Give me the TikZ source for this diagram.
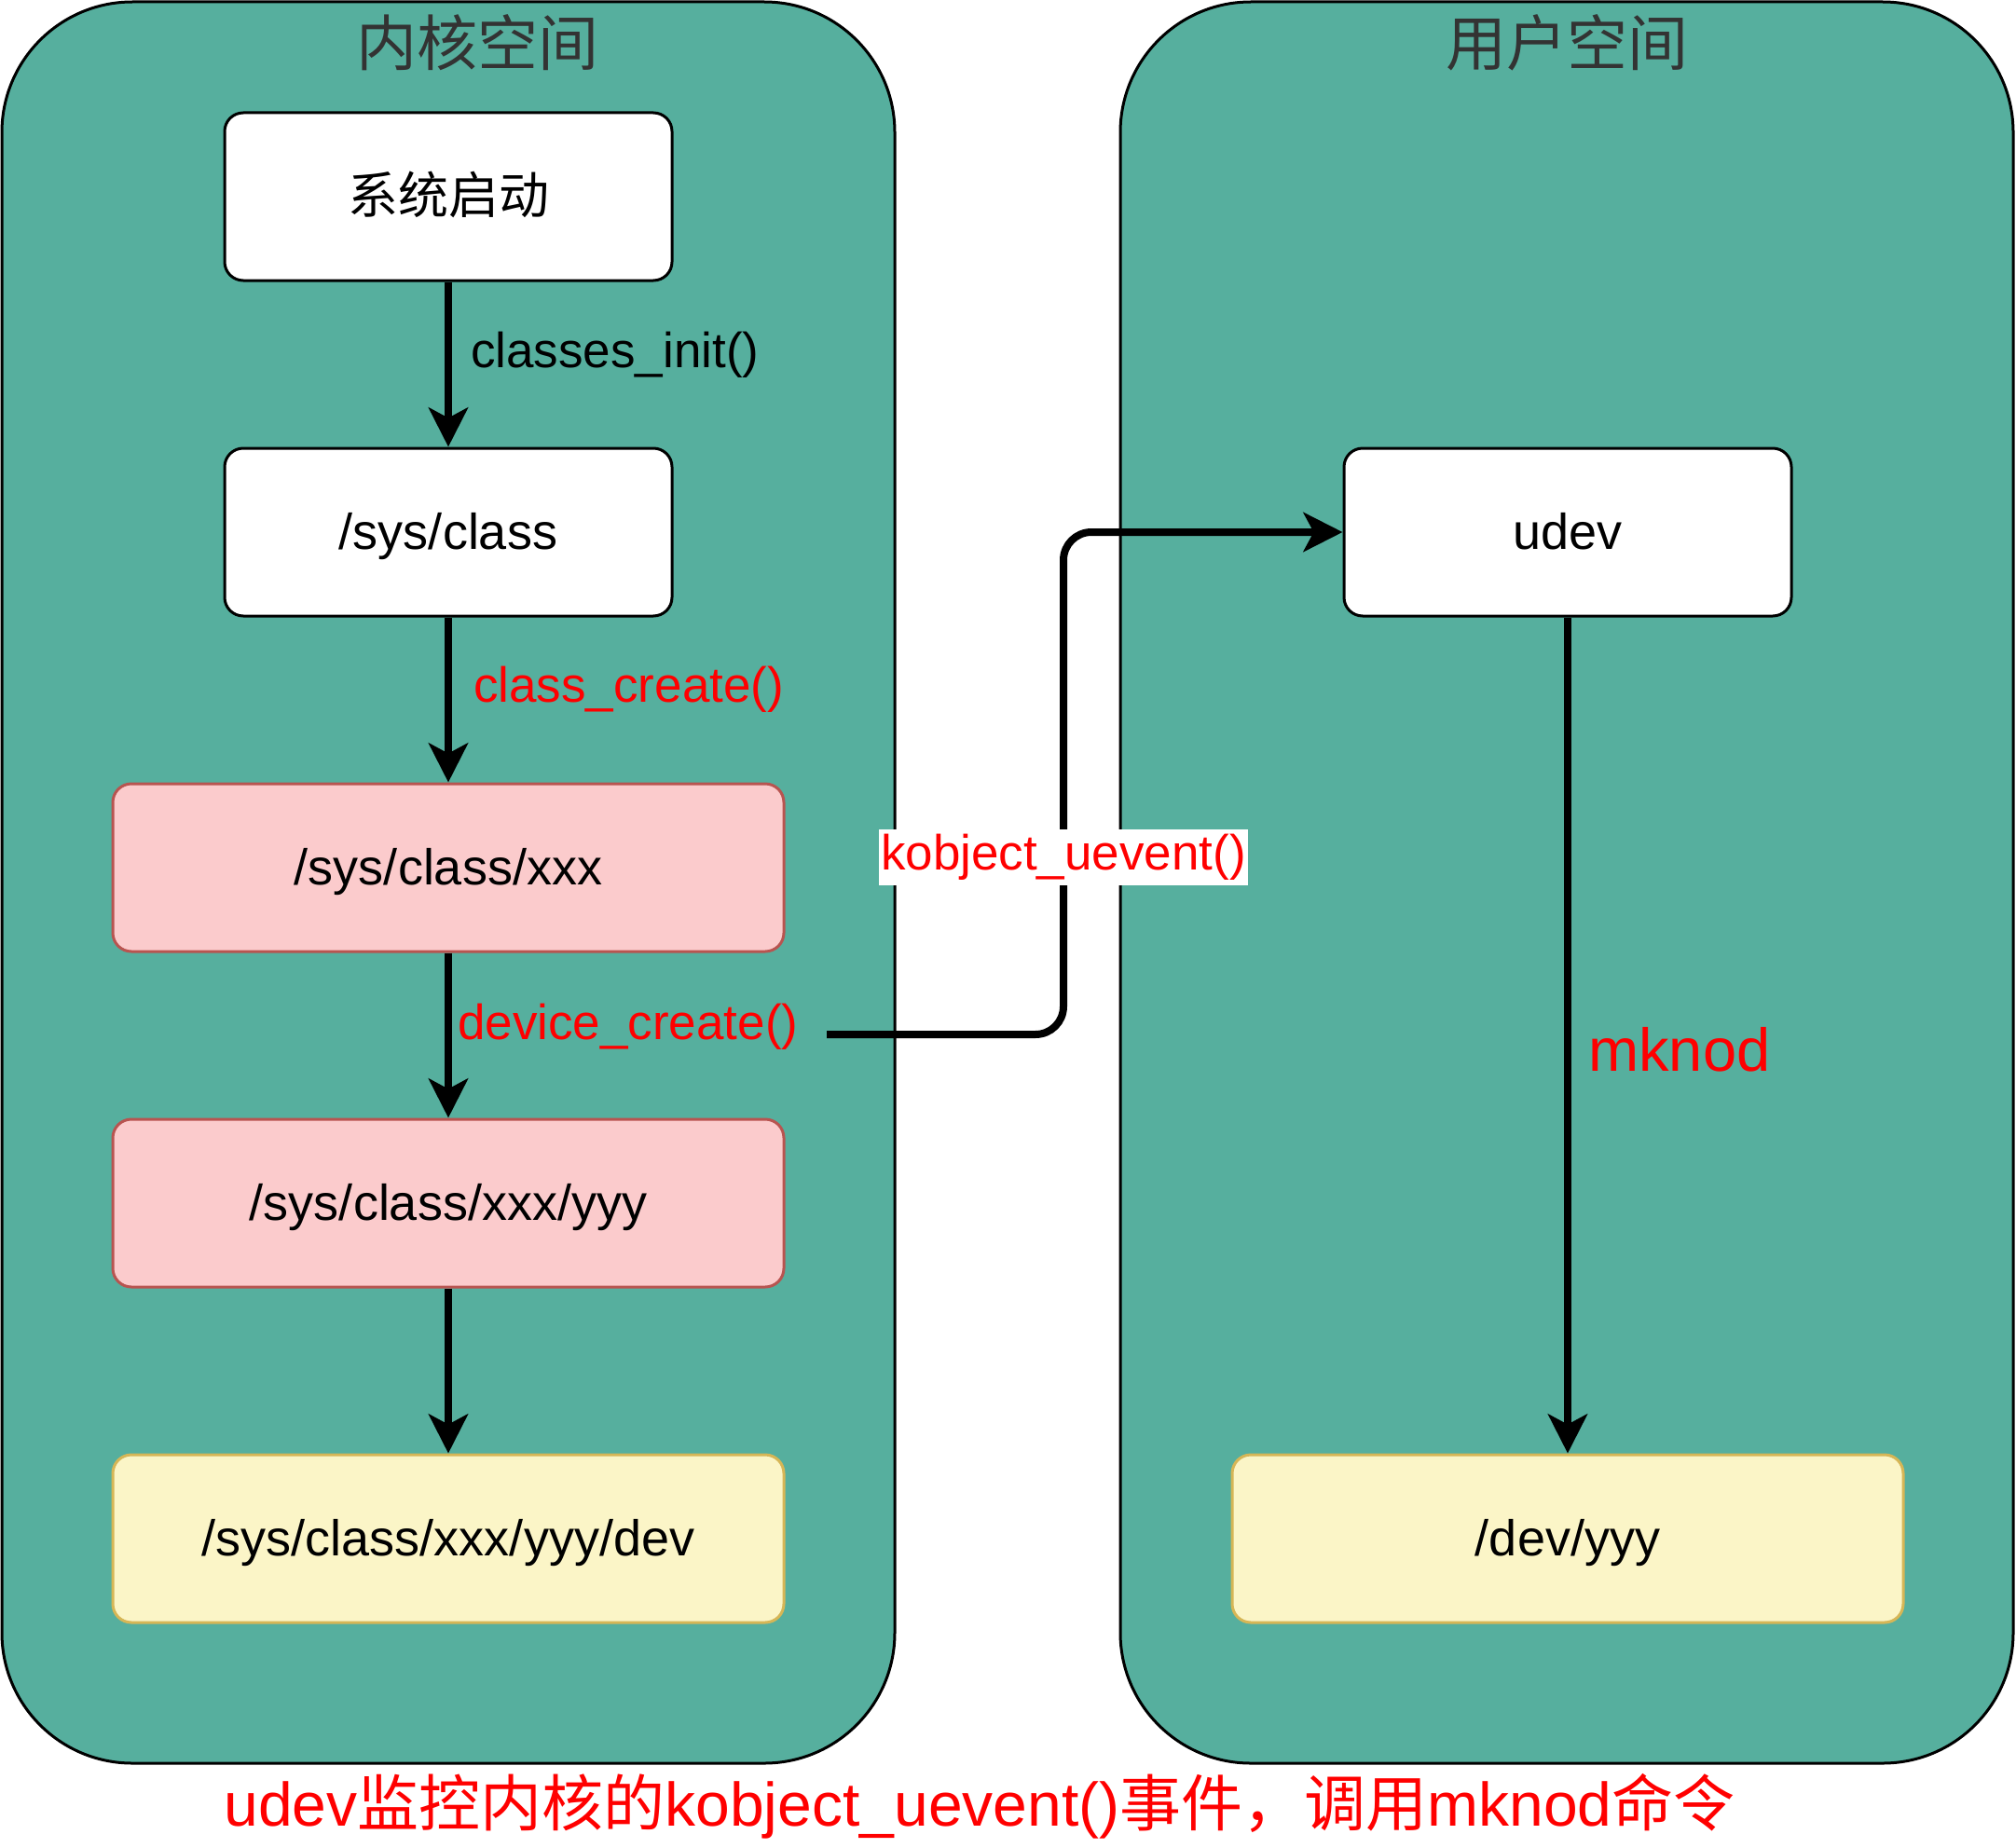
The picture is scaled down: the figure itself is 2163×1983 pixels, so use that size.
\documentclass[tikz,border=0pt]{standalone}
\usepackage{fontspec}
\setmainfont{Liberation Sans}
\newfontfamily\cjk{Noto Sans CJK SC}
\usetikzlibrary{arrows.meta}
\definecolor{contfill}{RGB}{86,175,158}
\definecolor{pinkfill}{RGB}{251,203,204}
\definecolor{pinkline}{RGB}{184,84,80}
\definecolor{yellowfill}{RGB}{251,245,199}
\definecolor{yellowline}{RGB}{214,182,86}
\definecolor{titlegray}{RGB}{51,51,51}
\definecolor{redtext}{RGB}{255,0,0}
\tikzset{
  container/.style={draw=black, line width=3pt, fill=contfill, rounded corners=140pt,
    minimum width=958pt, minimum height=1890pt, inner sep=0pt},
  box/.style={draw=black, fill=white, line width=3pt, rounded corners=20pt,
    minimum width=480pt, minimum height=180pt, inner sep=0pt,
    text height=42pt, text depth=6pt,
    font=\fontsize{54}{60}\selectfont},
  widebox/.style={box, minimum width=720pt},
  pinkbox/.style={widebox, fill=pinkfill, draw=pinkline},
  yellowbox/.style={widebox, fill=yellowfill, draw=yellowline},
  flow/.style={-{Stealth[length=42pt,width=42pt,inset=11pt]}, line width=8pt},
  lbl/.style={font=\fontsize{53}{60}\selectfont, anchor=west, inner sep=0pt},
  title/.style={font=\fontsize{65}{72}\selectfont\cjk, text=titlegray, inner sep=0pt}
}
\begin{document}
\begin{tikzpicture}[x=1pt,y=-1pt]
\useasboundingbox (0,0) rectangle (2163,1983);
% containers
\node[container] (kernel) at (481,947) {};
\node[container] (user) at (1681,947) {};
\node[title] (kt) at (512,46) {内核空间};
\node[title] (ut) at (1681,46) {用户空间};
% boxes
\node[box] (boot) at (481,211) {\cjk 系统启动};
\node[box] (sysclass) at (481,571) {/sys/class};
\node[pinkbox] (xxx) at (481,931) {/sys/class/xxx};
\node[pinkbox] (yyy) at (481,1291) {/sys/class/xxx/yyy};
\node[yellowbox] (dev) at (481,1651) {/sys/class/xxx/yyy/dev};
\node[box] (udev) at (1682,571) {udev};
\node[yellowbox] (devyyy) at (1682,1651) {/dev/yyy};
% connectors
\draw[flow] (boot) -- (sysclass);
\draw[flow] (sysclass) -- (xxx);
\draw[flow] (xxx) -- (yyy);
\draw[flow] (yyy) -- (dev);
\draw[flow] (udev) -- (devyyy);
\coordinate (ks) at (887,1110);
\draw[flow, rounded corners=30pt] (ks) -- (1141,1110) -- (1141,571) -- (udev.west);
% labels
\node[lbl] (l1) at (505,381) {classes\_init()};
\node[lbl, text=redtext] (l2) at (508,740) {class\_create()};
\node[lbl, text=redtext] (l3) at (491,1102) {device\_create()};
\node[font=\fontsize{53}{60}\selectfont, text=redtext, fill=white, inner xsep=2pt, inner ysep=5pt] (l4) at (1141,920) {kobject\_uevent()};
\node[lbl, font=\fontsize{65}{72}\selectfont, text=redtext] (l5) at (1704,1126) {mknod};
\node[font=\fontsize{66}{72}\selectfont, text=redtext, inner sep=0pt] (bottom) at (1051,1938)
  {udev{\cjk 监控内核的}kobject\_uevent(){\cjk 事件，调用}mknod{\cjk 命令}};
\end{tikzpicture}
\end{document}
